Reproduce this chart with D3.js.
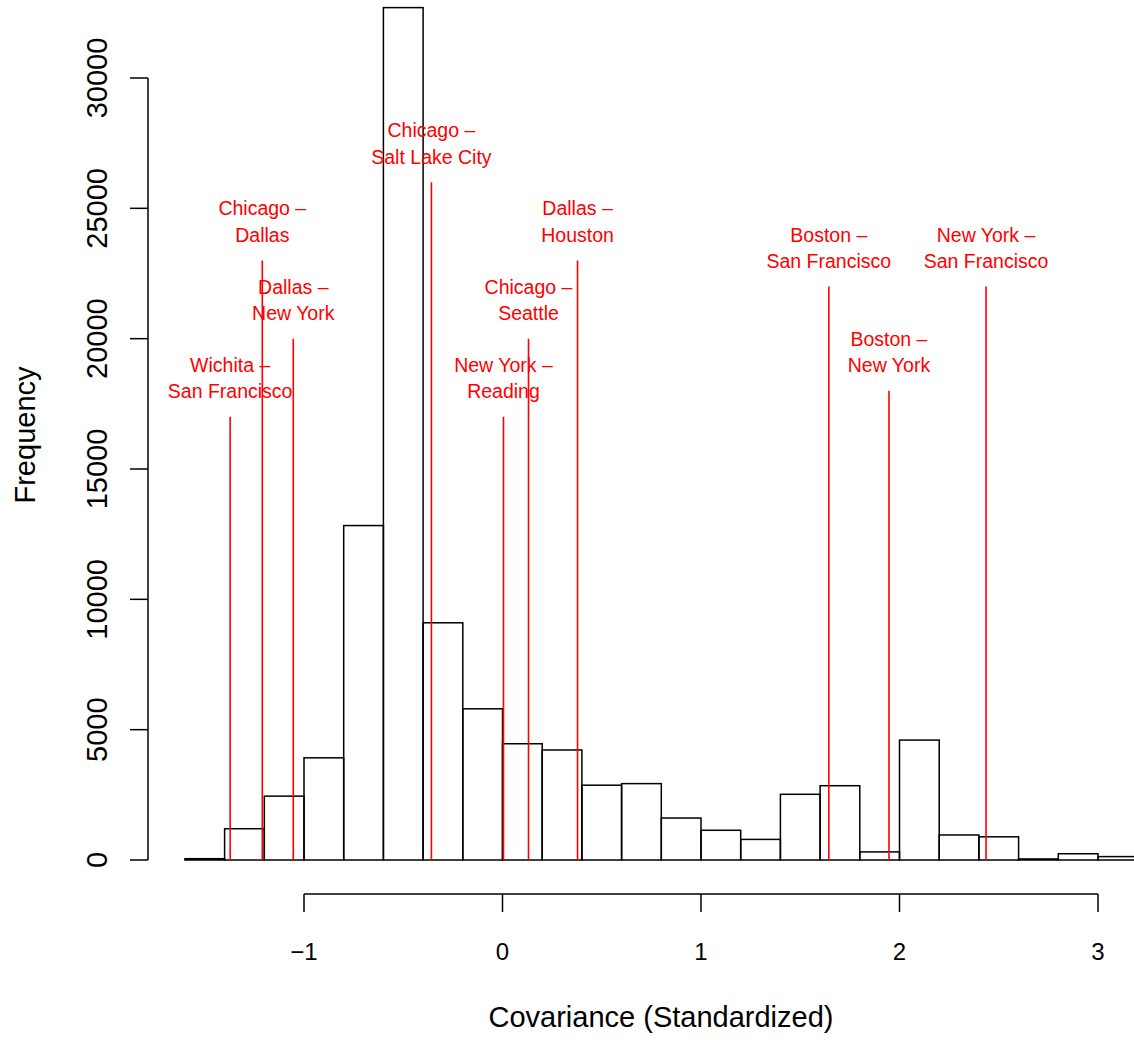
<!DOCTYPE html>
<html>
<head>
<meta charset="utf-8">
<script src="https://cdn.jsdelivr.net/npm/d3@7"></script>
<style>
  body { margin: 0; background: #fff; }
  svg { font-family: "Liberation Sans", Arial, Helvetica, sans-serif; }
</style>
</head>
<body>
<svg id="chart"></svg>
<script>
// histogram bins (lower edge) and counts
var binStarts = [-1.6, -1.4, -1.2, -1.0, -0.8, -0.6, -0.4, -0.2, 0.0, 0.2, 0.4, 0.6,
                 0.8, 1.0, 1.2, 1.4, 1.6, 1.8, 2.0, 2.2, 2.4, 2.6, 2.8, 3.0];
var binWidth = 0.2;
var counts = [50, 1200, 2450, 3920, 12830, 32700, 9100, 5800, 4460, 4220, 2870, 2930,
              1610, 1140, 790, 2520, 2850, 310, 4600, 960, 890, 40, 240, 130];

// city pairs marked with red lines
var pairFrom = ["Wichita", "Chicago", "Dallas", "Chicago", "New York", "Chicago",
                "Dallas", "Boston", "Boston", "New York"];
var pairTo = ["San Francisco", "Dallas", "New York", "Salt Lake City", "Reading", "Seattle",
              "Houston", "San Francisco", "New York", "San Francisco"];
var pairX = [-1.372, -1.21, -1.054, -0.358, 0.005, 0.131, 0.378, 1.644, 1.947, 2.436];
var pairTop = [17000, 23000, 20000, 26000, 17000, 20000, 23000, 22000, 18000, 22000];

var xTicks = [-1, 0, 1, 2, 3];
var yTicks = [0, 5000, 10000, 15000, 20000, 25000, 30000];

var width = 1134, height = 1040;

var svg = d3.select("#chart")
    .attr("width", width)
    .attr("height", height);

var x = d3.scaleLinear().domain([-1, 3]).range([304, 1098]);
var y = d3.scaleLinear().domain([0, 30000]).range([860, 78]);

// bars
svg.append("g")
  .selectAll("rect")
  .data(counts)
  .enter()
  .append("rect")
    .attr("x", function(d, i) { return x(binStarts[i]); })
    .attr("width", function(d, i) { return x(binStarts[i] + binWidth) - x(binStarts[i]); })
    .attr("y", function(d) { return y(d); })
    .attr("height", function(d) { return y(0) - y(d); })
    .attr("fill", "none")
    .attr("stroke", "#000")
    .attr("stroke-width", 1.5);

// red marker lines
svg.append("g")
  .selectAll("line")
  .data(pairX)
  .enter()
  .append("line")
    .attr("x1", function(d) { return x(d); })
    .attr("x2", function(d) { return x(d); })
    .attr("y1", function(d, i) { return y(pairTop[i]); })
    .attr("y2", y(0))
    .attr("stroke", "#ff0000")
    .attr("stroke-width", 1.6);

// labels above the lines, two rows each
var labels = svg.append("g")
  .selectAll("text")
  .data(pairX)
  .enter()
  .append("text")
    .attr("text-anchor", "middle")
    .attr("fill", "#ff0000")
    .style("font-size", "19.5px");

labels.append("tspan")
    .attr("x", function(d) { return x(d); })
    .attr("y", function(d, i) { return y(pairTop[i]) - 45; })
    .text(function(d, i) { return pairFrom[i] + " \u2013"; });

labels.append("tspan")
    .attr("x", function(d) { return x(d); })
    .attr("y", function(d, i) { return y(pairTop[i]) - 18.5; })
    .text(function(d, i) { return pairTo[i]; });

// x axis (R style, detached)
var xAxis = svg.append("g").attr("transform", "translate(0,894)");
xAxis.append("line")
    .attr("x1", x(xTicks[0])).attr("x2", x(xTicks[xTicks.length - 1]))
    .attr("y1", 0).attr("y2", 0)
    .attr("stroke", "#000").attr("stroke-width", 1.5);
xAxis.selectAll(".tick")
  .data(xTicks)
  .enter()
  .append("line")
    .attr("x1", function(d) { return x(d); })
    .attr("x2", function(d) { return x(d); })
    .attr("y1", 0).attr("y2", 18)
    .attr("stroke", "#000").attr("stroke-width", 1.5);
xAxis.selectAll(".lab")
  .data(xTicks)
  .enter()
  .append("text")
    .attr("x", function(d) { return x(d); })
    .attr("y", 66)
    .attr("text-anchor", "middle")
    .style("font-size", "24px")
    .text(function(d) { return d < 0 ? "\u2212" + Math.abs(d) : d; });

// y axis
var yAxis = svg.append("g").attr("transform", "translate(148,0)");
yAxis.append("line")
    .attr("x1", 0).attr("x2", 0)
    .attr("y1", y(0)).attr("y2", y(30000))
    .attr("stroke", "#000").attr("stroke-width", 1.5);
yAxis.selectAll(".tick")
  .data(yTicks)
  .enter()
  .append("line")
    .attr("x1", 0).attr("x2", -18)
    .attr("y1", function(d) { return y(d); })
    .attr("y2", function(d) { return y(d); })
    .attr("stroke", "#000").attr("stroke-width", 1.5);
yAxis.selectAll(".lab")
  .data(yTicks)
  .enter()
  .append("text")
    .attr("transform", function(d) { return "translate(-41," + y(d) + ") rotate(-90)"; })
    .attr("text-anchor", "middle")
    .style("font-size", "29px")
    .text(function(d) { return d; });

// axis titles
svg.append("text")
    .attr("x", 661)
    .attr("y", 1027)
    .attr("text-anchor", "middle")
    .style("font-size", "29px")
    .text("Covariance (Standardized)");

svg.append("text")
    .attr("transform", "translate(35,435) rotate(-90)")
    .attr("text-anchor", "middle")
    .style("font-size", "29px")
    .text("Frequency");
</script>
</body>
</html>
